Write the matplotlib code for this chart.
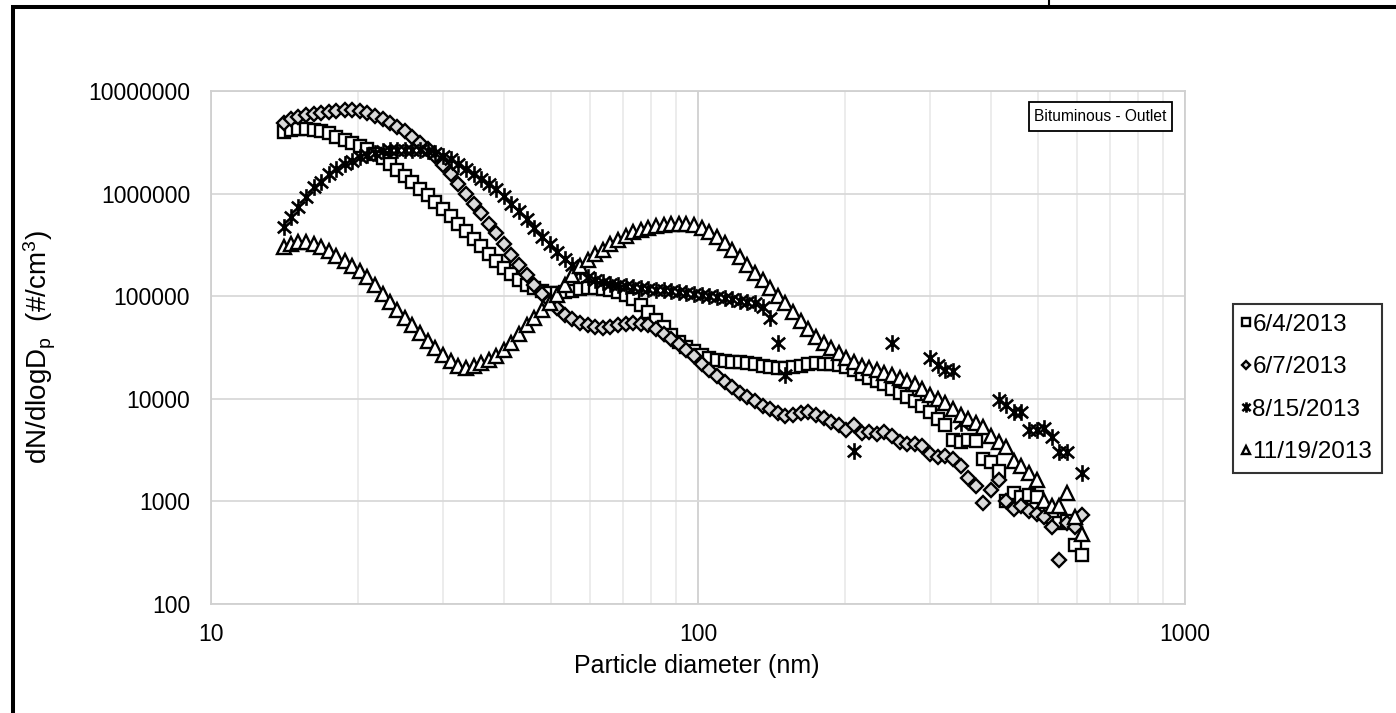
import numpy as np
import matplotlib
matplotlib.use('Agg')
import matplotlib.pyplot as plt
from matplotlib.path import Path
from matplotlib.lines import Line2D
from matplotlib.patches import Rectangle
from matplotlib.ticker import FixedLocator, FuncFormatter, NullLocator, LogLocator, NullFormatter

plt.rcParams['font.family'] = ['Liberation Sans', 'DejaVu Sans']
plt.rcParams['mathtext.fontset'] = 'custom'
plt.rcParams['mathtext.rm'] = 'Liberation Sans'
plt.rcParams['mathtext.it'] = 'Liberation Sans:italic'

# ---------------- data ----------------
diameter_nm = [
    14.1, 14.6, 15.1, 15.7, 16.3, 16.8, 17.5, 18.1, 18.8, 19.5,
    20.2, 20.9, 21.7, 22.5, 23.3, 24.1, 25.0, 25.9, 26.9, 27.9,
    28.9, 30.0, 31.1, 32.2, 33.4, 34.6, 35.9, 37.2, 38.5, 40.0,
    41.4, 42.9, 44.5, 46.1, 47.8, 49.6, 51.4, 53.3, 55.2, 57.3,
    59.4, 61.5, 63.8, 66.1, 68.5, 71.0, 73.7, 76.4, 79.1, 82.0,
    85.1, 88.2, 91.4, 94.7, 98.2, 101.8, 105.5, 109.4, 113.4, 117.6,
    121.9, 126.3, 131.0, 135.8, 140.7, 145.9, 151.2, 156.8, 162.5, 168.5,
    174.7, 181.1, 187.7, 194.6, 201.7, 209.1, 216.7, 224.7, 232.9, 241.4,
    250.3, 259.5, 269.0, 278.8, 289.0, 299.6, 310.6, 322.0, 333.8, 346.0,
    358.7, 371.8, 385.4, 399.5, 414.2, 429.4, 445.1, 461.4, 478.3, 495.8,
    514.0, 532.8, 552.3, 572.5, 593.5, 615.3,
]

series_labels = ['6/4/2013', '6/7/2013', '8/15/2013', '11/19/2013']

conc_0604 = [
    4.0e6, 4.2e6, 4.3e6, 4.3e6, 4.2e6, 4.1e6, 3.9e6, 3.6e6, 3.35e6, 3.1e6,
    2.9e6, 2.7e6, 2.45e6, 2.2e6, 1.95e6, 1.7e6, 1.5e6, 1.3e6, 1.12e6, 9.7e5,
    8.3e5, 7.1e5, 6.0e5, 5.1e5, 4.3e5, 3.65e5, 3.1e5, 2.6e5, 2.2e5, 1.9e5,
    1.65e5, 1.45e5, 1.3e5, 1.2e5, 1.12e5, 1.08e5, 1.08e5, 1.1e5, 1.13e5, 1.17e5,
    1.2e5, 1.2e5, 1.18e5, 1.15e5, 1.1e5, 1.03e5, 9.3e4, 8.2e4, 7.0e4, 5.9e4,
    5.0e4, 4.2e4, 3.6e4, 3.2e4, 2.9e4, 2.7e4, 2.5e4, 2.4e4, 2.35e4, 2.3e4,
    2.3e4, 2.25e4, 2.2e4, 2.1e4, 2.05e4, 2.0e4, 2.0e4, 2.05e4, 2.1e4, 2.2e4,
    2.25e4, 2.2e4, 2.2e4, 2.15e4, 2.05e4, 1.9e4, 1.75e4, 1.6e4, 1.5e4, 1.4e4,
    1.25e4, 1.15e4, 1.05e4, 9.5e3, 8.5e3, 7.5e3, 6.3e3, 5.5e3, 4.0e3, 3.8e3,
    4.0e3, 3.9e3, 2.6e3, 2.4e3, 2.0e3, 1.0e3, 1.2e3, 1.1e3, 1.15e3, 1.1e3,
    800, 700, 620, 650, 380, 300,
]

conc_0607 = [
    4.9e6, 5.3e6, 5.6e6, 5.8e6, 6.0e6, 6.1e6, 6.3e6, 6.4e6, 6.5e6, 6.5e6,
    6.4e6, 6.1e6, 5.7e6, 5.3e6, 4.9e6, 4.5e6, 4.1e6, 3.6e6, 3.1e6, 2.7e6,
    2.3e6, 1.9e6, 1.55e6, 1.25e6, 1.0e6, 8.0e5, 6.4e5, 5.1e5, 4.1e5, 3.2e5,
    2.5e5, 2.0e5, 1.6e5, 1.3e5, 1.06e5, 9.0e4, 7.6e4, 6.6e4, 6.0e4, 5.5e4,
    5.2e4, 5.0e4, 4.9e4, 5.0e4, 5.2e4, 5.4e4, 5.5e4, 5.4e4, 5.2e4, 4.8e4,
    4.3e4, 3.8e4, 3.4e4, 3.0e4, 2.6e4, 2.2e4, 1.9e4, 1.65e4, 1.45e4, 1.3e4,
    1.15e4, 1.05e4, 9.5e3, 8.5e3, 8.0e3, 7.2e3, 6.8e3, 7.0e3, 7.3e3, 7.5e3,
    7.0e3, 6.5e3, 6.0e3, 5.5e3, 5.0e3, 5.5e3, 4.6e3, 4.8e3, 4.5e3, 4.8e3,
    4.3e3, 3.8e3, 3.6e3, 3.6e3, 3.5e3, 2.9e3, 2.7e3, 2.8e3, 2.6e3, 2.2e3,
    1.7e3, 1.4e3, 960, 1.3e3, 1.6e3, 1.0e3, 850, 900, 800, 750,
    700, 560, 270, 620, 560, 740,
]

conc_0815 = [
    4.7e5, 5.9e5, 7.4e5, 9.3e5, 1.15e6, 1.3e6, 1.55e6, 1.75e6, 1.95e6, 2.1e6,
    2.25e6, 2.4e6, 2.5e6, 2.6e6, 2.65e6, 2.65e6, 2.65e6, 2.65e6, 2.65e6, 2.6e6,
    2.5e6, 2.35e6, 2.15e6, 1.95e6, 1.75e6, 1.55e6, 1.4e6, 1.25e6, 1.1e6, 9.5e5,
    8.0e5, 6.8e5, 5.6e5, 4.6e5, 3.8e5, 3.2e5, 2.7e5, 2.3e5, 2.0e5, 1.75e5,
    1.55e5, 1.45e5, 1.38e5, 1.32e5, 1.28e5, 1.25e5, 1.22e5, 1.2e5, 1.18e5, 1.16e5,
    1.14e5, 1.12e5, 1.1e5, 1.08e5, 1.05e5, 1.03e5, 1.0e5, 9.8e4, 9.6e4, 9.3e4,
    9.0e4, 8.8e4, 8.5e4, 7.8e4, 6.2e4, 3.5e4, 1.7e4, None, None, None,
    None, None, None, None, None, 3.1e3, None, None, None, None,
    3.5e4, None, None, None, None, 2.5e4, 2.15e4, 1.9e4, 1.85e4, 5.8e3,
    None, None, None, None, 9.8e3, 8.7e3, 7.4e3, 7.4e3, 5.0e3, 5.0e3,
    5.2e3, 4.2e3, 3.0e3, 3.0e3, None, 1.9e3,
]

conc_1119 = [
    3.0e5, 3.2e5, 3.35e5, 3.35e5, 3.2e5, 3.0e5, 2.75e5, 2.45e5, 2.2e5, 1.95e5,
    1.75e5, 1.55e5, 1.3e5, 1.05e5, 8.8e4, 7.4e4, 6.2e4, 5.2e4, 4.4e4, 3.7e4,
    3.1e4, 2.65e4, 2.35e4, 2.1e4, 2.0e4, 2.1e4, 2.25e4, 2.4e4, 2.6e4, 3.0e4,
    3.5e4, 4.3e4, 5.2e4, 6.2e4, 7.3e4, 8.5e4, 1.03e5, 1.3e5, 1.6e5, 1.95e5,
    2.25e5, 2.55e5, 2.85e5, 3.2e5, 3.55e5, 3.9e5, 4.2e5, 4.45e5, 4.65e5, 4.8e5,
    4.9e5, 5.0e5, 5.1e5, 5.1e5, 4.9e5, 4.6e5, 4.2e5, 3.8e5, 3.3e5, 2.85e5,
    2.4e5, 2.0e5, 1.7e5, 1.45e5, 1.2e5, 1.0e5, 8.5e4, 7.0e4, 5.7e4, 4.8e4,
    4.0e4, 3.5e4, 3.1e4, 2.8e4, 2.5e4, 2.3e4, 2.1e4, 2.0e4, 1.9e4, 1.8e4,
    1.7e4, 1.6e4, 1.5e4, 1.4e4, 1.25e4, 1.1e4, 1.0e4, 9.0e3, 8.0e3, 7.0e3,
    6.3e3, 5.8e3, 5.3e3, 4.3e3, 3.8e3, 3.4e3, 2.5e3, 2.2e3, 1.9e3, 1.6e3,
    1.0e3, 900, 900, 1.2e3, 700, 480,
]

x_ticks = [10, 100, 1000]
y_ticks = [100, 1000, 10000, 100000, 1000000, 10000000]

# ---------------- figure ----------------
W, H = 1396, 713
fig = plt.figure(figsize=(W / 100, H / 100), dpi=100)
ax = fig.add_axes([211 / W, 1 - 604 / H, (1185 - 211) / W, (604 - 91) / H])

ast_path = Path([(0, -1), (0, 1), (-0.8, -0.7), (0.8, 0.7), (-0.8, 0.7), (0.8, -0.7)],
                [Path.MOVETO, Path.LINETO, Path.MOVETO, Path.LINETO, Path.MOVETO, Path.LINETO])

styles = [
    dict(marker='s', ms=9.3, mfc='white', mec='black', mew=1.7),
    dict(marker='D', ms=7.0, mfc='#d9d9d9', mec='black', mew=1.7),
    dict(marker=ast_path, ms=12, mfc='none', mec='black', mew=1.9),
    dict(marker='^', ms=9.8, mfc='white', mec='black', mew=1.7),
]
series = [conc_0604, conc_0607, conc_0815, conc_1119]
x = np.array(diameter_nm, dtype=float)
handles = []
for lab, ys, st in zip(series_labels, series, styles):
    y = np.array(ys, dtype=float)
    h, = ax.plot(x, y, linestyle='none', label=lab, **st)
    handles.append(h)

ax.set_xscale('log')
ax.set_yscale('log')
ax.set_xlim(10, 1000)
ax.set_ylim(100, 1e7)

ax.xaxis.set_major_locator(FixedLocator(x_ticks))
ax.xaxis.set_major_formatter(FuncFormatter(lambda v, p: f'{int(round(v))}'))
ax.xaxis.set_minor_locator(LogLocator(base=10, subs=range(2, 10), numticks=20))
ax.xaxis.set_minor_formatter(NullFormatter())
ax.yaxis.set_major_locator(FixedLocator(y_ticks))
ax.yaxis.set_major_formatter(FuncFormatter(lambda v, p: f'{int(round(v))}'))
ax.yaxis.set_minor_locator(NullLocator())

ax.grid(which='major', axis='x', color='#d0d0d0', lw=1.3)
ax.grid(which='minor', axis='x', color='#ebebeb', lw=1.3)
ax.grid(which='major', axis='y', color='#d9d9d9', lw=1.3)
ax.set_axisbelow(True)
for s in ax.spines.values():
    s.set_color('#d0d0d0')
    s.set_linewidth(1.3)
ax.tick_params(which='both', length=0)
ax.tick_params(axis='x', pad=14, labelsize=16.5, colors='black')
ax.tick_params(axis='y', pad=15, labelsize=16.5, colors='black')

fig.text(697 / W, 1 - 666 / H, 'Particle diameter (nm)', ha='center', va='center', fontsize=18)
fig.text(40 / W, 1 - 347 / H, r'dN/dlogD$_{\mathrm{p}}$  (#/cm$^{3}$)', ha='center', va='center',
         rotation=90, fontsize=20)

# annotation box
bx0, bx1, by0, by1 = 1029, 1172, 102, 131
fig.add_artist(Rectangle((bx0 / W, 1 - by1 / H), (bx1 - bx0) / W, (by1 - by0) / H,
                         transform=fig.transFigure, fc='white', ec='black', lw=1.3, zorder=5))
fig.text((bx0 + bx1) / 2 / W, 1 - (by0 + by1) / 2 / H, 'Bituminous - Outlet',
         ha='center', va='center', fontsize=11.2, zorder=6)

leg = fig.legend(handles=handles, loc='upper left', bbox_to_anchor=(1233 / W, 1 - 304 / H),
                 frameon=True, fancybox=False, edgecolor='black', fontsize=17.5,
                 markerscale=0.62, handlelength=0.3, handletextpad=0.1,
                 labelspacing=0.84, borderpad=0.4, borderaxespad=0)
leg.get_frame().set_linewidth(1.5)

# outer frame
fig.add_artist(Line2D([11 / W, 1], [1 - 7 / H, 1 - 7 / H], transform=fig.transFigure,
                      color='black', lw=2.9, solid_capstyle='butt'))
fig.add_artist(Line2D([13 / W, 13 / W], [0, 1 - 5 / H], transform=fig.transFigure,
                      color='black', lw=2.9, solid_capstyle='butt'))
fig.add_artist(Line2D([1049 / W, 1049 / W], [1 - 5 / H, 1], transform=fig.transFigure,
                      color='black', lw=1.5, solid_capstyle='butt'))

fig.savefig('out.png', dpi=100)
